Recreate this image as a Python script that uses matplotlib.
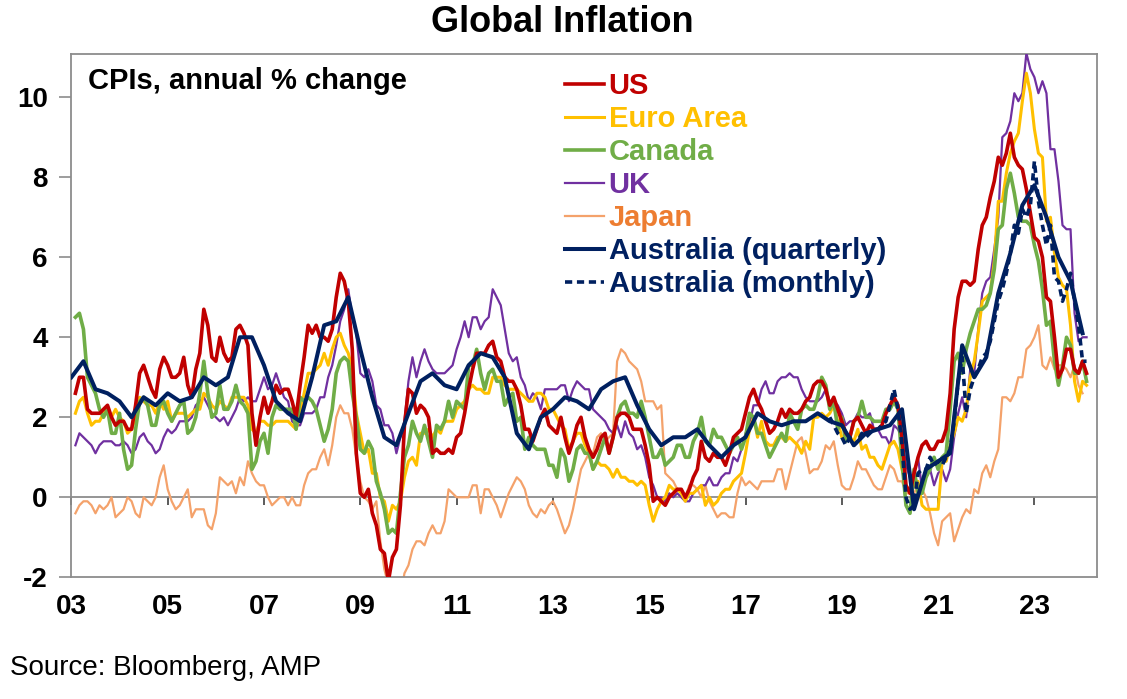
import numpy as np
import pandas as pd
import matplotlib
matplotlib.use('Agg')
from matplotlib import pyplot as plt

plt.rcParams['font.family'] = ['Liberation Sans', 'DejaVu Sans']
plt.rcParams['axes.unicode_minus'] = False

# monthly CPI, annual % change, Jan 2003 onwards
us = [2.6, 3.0, 3.0, 2.2, 2.1, 2.1, 2.1, 2.2, 2.3, 2.0, 1.8, 1.9,
      1.9, 1.7, 1.7, 2.3, 3.1, 3.3, 3.0, 2.7, 2.5, 3.2, 3.5, 3.3,
      3.0, 3.0, 3.1, 3.5, 2.8, 2.5, 3.2, 3.6, 4.7, 4.3, 3.5, 3.4,
      4.0, 3.6, 3.4, 3.5, 4.2, 4.3, 4.1, 3.8, 2.1, 1.3, 2.0, 2.5,
      2.1, 2.4, 2.8, 2.6, 2.7, 2.7, 2.4, 2.0, 2.8, 3.5, 4.3, 4.1,
      4.3, 4.0, 4.0, 3.9, 4.2, 5.0, 5.6, 5.4, 4.9, 3.7, 1.1, 0.1,
      0.0, 0.2, -0.4, -0.7, -1.3, -1.4, -2.1, -1.5, -1.3, -0.2, 1.8, 2.7,
      2.6, 2.1, 2.3, 2.2, 2.0, 1.1, 1.2, 1.1, 1.1, 1.2, 1.1, 1.5,
      1.6, 2.1, 2.7, 3.2, 3.6, 3.6, 3.6, 3.8, 3.9, 3.5, 3.4, 3.0,
      2.9, 2.9, 2.7, 2.3, 1.7, 1.7, 1.4, 1.7, 2.0, 2.2, 1.8, 1.7,
      1.6, 2.0, 1.5, 1.1, 1.4, 1.8, 2.0, 1.5, 1.2, 1.0, 1.2, 1.5,
      1.6, 1.1, 1.5, 2.0, 2.1, 2.1, 2.0, 1.7, 1.7, 1.7, 1.3, 0.8,
      -0.1, 0.0, -0.1, -0.2, 0.0, 0.1, 0.2, 0.2, 0.0, 0.2, 0.5, 0.7,
      1.4, 1.0, 0.9, 1.1, 1.0, 1.0, 0.8, 1.1, 1.5, 1.6, 1.7, 2.1,
      2.5, 2.7, 2.4, 2.2, 1.9, 1.6, 1.7, 1.9, 2.2, 2.0, 2.2, 2.1,
      2.1, 2.2, 2.4, 2.5, 2.8, 2.9, 2.9, 2.7, 2.3, 2.5, 2.2, 1.9,
      1.6, 1.5, 1.9, 2.0, 1.8, 1.6, 1.8, 1.7, 1.7, 1.8, 2.1, 2.3,
      2.5, 2.3, 1.5, 0.3, 0.1, 0.6, 1.0, 1.3, 1.4, 1.2, 1.2, 1.4,
      1.4, 1.7, 2.6, 4.2, 5.0, 5.4, 5.4, 5.3, 5.4, 6.2, 6.8, 7.0,
      7.5, 7.9, 8.5, 8.3, 8.6, 9.1, 8.5, 8.3, 8.2, 7.7, 7.1, 6.5,
      6.4, 6.0, 5.0, 4.9, 4.0, 3.0, 3.2, 3.7, 3.7, 3.2, 3.1, 3.4,
      3.1]

euro = [2.1, 2.4, 2.5, 2.1, 1.8, 1.9, 1.9, 2.1, 2.2, 2.0, 2.2, 2.0,
        1.9, 1.6, 1.7, 2.0, 2.5, 2.4, 2.3, 2.3, 2.1, 2.4, 2.2, 2.4,
        1.9, 2.1, 2.1, 2.1, 2.0, 2.1, 2.2, 2.2, 2.6, 2.5, 2.3, 2.2,
        2.4, 2.3, 2.2, 2.5, 2.5, 2.5, 2.5, 2.3, 1.7, 1.6, 1.9, 1.9,
        1.8, 1.8, 1.9, 1.9, 1.9, 1.9, 1.8, 1.7, 2.1, 2.6, 3.1, 3.1,
        3.2, 3.3, 3.6, 3.3, 3.7, 4.0, 4.1, 3.8, 3.6, 3.2, 2.1, 1.6,
        1.1, 1.2, 0.6, 0.6, 0.0, -0.1, -0.6, -0.2, -0.3, -0.1, 0.5, 0.9,
        1.0, 0.8, 1.6, 1.6, 1.7, 1.5, 1.7, 1.6, 1.9, 1.9, 1.9, 2.2,
        2.3, 2.4, 2.7, 2.8, 2.7, 2.7, 2.6, 2.6, 3.0, 3.0, 3.0, 2.8,
        2.7, 2.7, 2.7, 2.6, 2.5, 2.4, 2.4, 2.6, 2.6, 2.5, 2.2, 2.2,
        2.0, 1.8, 1.7, 1.2, 1.4, 1.6, 1.6, 1.3, 1.1, 0.7, 0.9, 0.8,
        0.8, 0.7, 0.5, 0.7, 0.5, 0.5, 0.4, 0.4, 0.3, 0.4, 0.3, -0.2,
        -0.6, -0.3, -0.1, 0.0, 0.3, 0.2, 0.2, 0.1, -0.1, 0.1, 0.1, 0.2,
        0.3, -0.2, 0.0, -0.2, -0.1, 0.1, 0.2, 0.2, 0.4, 0.5, 0.6, 1.1,
        1.7, 2.0, 1.5, 1.9, 1.4, 1.3, 1.3, 1.5, 1.5, 1.4, 1.5, 1.4,
        1.3, 1.1, 1.4, 1.2, 2.0, 2.0, 2.1, 2.0, 2.1, 2.3, 1.9, 1.5,
        1.4, 1.5, 1.4, 1.7, 1.2, 1.3, 1.0, 1.0, 0.8, 0.7, 1.0, 1.3,
        1.4, 1.2, 0.7, 0.3, 0.1, 0.3, 0.4, -0.2, -0.3, -0.3, -0.3, -0.3,
        0.9, 0.9, 1.3, 1.6, 2.0, 1.9, 2.2, 3.0, 3.4, 4.1, 4.9, 5.0,
        5.1, 5.9, 7.4, 7.4, 8.1, 8.6, 8.9, 9.1, 9.9, 10.6, 10.1, 9.2,
        8.6, 8.5, 6.9, 7.0, 6.1, 5.5, 5.3, 5.2, 4.3, 2.9, 2.4, 2.9,
        2.8]

canada = [4.5, 4.6, 4.2, 3.0, 2.8, 2.6, 2.2, 2.0, 2.2, 1.6, 1.6, 2.1,
          1.2, 0.7, 0.8, 1.7, 2.4, 2.5, 2.3, 1.8, 1.8, 2.3, 2.4, 2.1,
          1.9, 2.1, 2.3, 2.4, 1.6, 1.7, 2.0, 2.6, 3.4, 2.6, 2.0, 2.1,
          2.8, 2.2, 2.2, 2.4, 2.8, 2.4, 2.3, 2.1, 0.7, 0.9, 1.4, 1.6,
          1.1, 2.0, 2.3, 2.2, 2.2, 2.2, 2.2, 1.7, 2.5, 2.4, 2.5, 2.4,
          2.2, 1.8, 1.4, 1.7, 2.2, 3.1, 3.4, 3.5, 3.4, 2.6, 2.0, 1.2,
          1.1, 1.4, 1.2, 0.4, 0.1, -0.3, -0.9, -0.8, -0.9, 0.1, 1.0, 1.3,
          1.9, 1.6, 1.4, 1.8, 1.4, 1.0, 1.8, 1.7, 1.9, 2.4, 2.0, 2.4,
          2.3, 2.2, 3.3, 3.3, 3.7, 3.1, 2.7, 3.1, 3.2, 2.9, 2.9, 2.3,
          2.5, 2.6, 1.9, 2.0, 1.2, 1.5, 1.3, 1.2, 1.2, 1.2, 0.8, 0.8,
          0.5, 1.2, 1.0, 0.4, 0.7, 1.2, 1.3, 1.1, 1.1, 0.7, 0.9, 1.2,
          1.5, 1.1, 1.5, 2.0, 2.3, 2.4, 2.1, 2.1, 2.0, 2.4, 2.0, 1.5,
          1.0, 1.0, 1.2, 0.8, 0.9, 1.0, 1.3, 1.3, 1.0, 1.0, 1.4, 1.6,
          2.0, 1.4, 1.3, 1.7, 1.5, 1.5, 1.3, 1.1, 1.3, 1.5, 1.2, 1.5,
          2.1, 2.0, 1.6, 1.6, 1.3, 1.0, 1.2, 1.4, 1.6, 1.4, 2.1, 1.9,
          1.7, 2.2, 2.3, 2.2, 2.2, 2.5, 3.0, 2.8, 2.2, 2.4, 1.7, 2.0,
          1.4, 1.5, 1.9, 2.0, 2.4, 2.0, 2.0, 1.9, 1.9, 1.9, 2.2, 2.2,
          2.4, 2.2, 0.9, -0.2, -0.4, 0.7, 0.1, 0.1, 0.5, 0.7, 1.0, 0.7,
          1.0, 1.1, 2.2, 3.4, 3.6, 3.1, 3.7, 4.1, 4.4, 4.7, 4.7, 4.8,
          5.1, 5.7, 6.7, 6.8, 7.7, 8.1, 7.6, 7.0, 6.9, 6.9, 6.8, 6.3,
          5.9, 5.2, 4.3, 4.4, 3.4, 2.8, 3.3, 4.0, 3.8, 3.1, 3.1, 3.4,
          2.9]

uk = [1.3, 1.6, 1.5, 1.4, 1.3, 1.1, 1.3, 1.4, 1.4, 1.4, 1.3, 1.3,
      1.4, 1.3, 1.1, 1.2, 1.5, 1.6, 1.4, 1.3, 1.1, 1.2, 1.5, 1.7,
      1.6, 1.7, 1.9, 1.9, 1.9, 2.0, 2.3, 2.4, 2.5, 2.3, 2.1, 2.0,
      1.9, 2.0, 1.8, 2.0, 2.2, 2.5, 2.4, 2.5, 2.4, 2.4, 2.7, 3.0,
      2.7, 2.8, 3.1, 2.8, 2.5, 2.4, 1.9, 1.8, 1.8, 2.1, 2.1, 2.1,
      2.2, 2.5, 2.5, 3.0, 3.3, 3.8, 4.4, 4.7, 5.2, 4.5, 4.1, 3.1,
      3.0, 3.2, 2.9, 2.3, 2.2, 1.8, 1.8, 1.6, 1.1, 1.5, 1.9, 2.9,
      3.5, 3.0, 3.4, 3.7, 3.4, 3.2, 3.1, 3.1, 3.1, 3.2, 3.3, 3.7,
      4.0, 4.4, 4.0, 4.5, 4.5, 4.2, 4.4, 4.5, 5.2, 5.0, 4.8, 4.2,
      3.6, 3.4, 3.5, 3.0, 2.8, 2.4, 2.6, 2.5, 2.2, 2.7, 2.7, 2.7,
      2.7, 2.8, 2.8, 2.4, 2.7, 2.9, 2.8, 2.7, 2.7, 2.2, 2.1, 2.0,
      1.9, 1.7, 1.6, 1.8, 1.5, 1.9, 1.6, 1.5, 1.2, 1.3, 1.0, 0.5,
      0.3, 0.0, 0.0, -0.1, 0.1, 0.0, 0.1, 0.0, -0.1, -0.1, 0.1, 0.2,
      0.3, 0.3, 0.5, 0.3, 0.3, 0.5, 0.6, 0.6, 1.0, 0.9, 1.2, 1.6,
      1.8, 2.3, 2.3, 2.7, 2.9, 2.6, 2.6, 2.9, 3.0, 3.0, 3.1, 3.0,
      3.0, 2.7, 2.5, 2.4, 2.4, 2.4, 2.5, 2.7, 2.4, 2.4, 2.3, 2.1,
      1.8, 1.9, 1.9, 2.1, 2.0, 2.0, 2.1, 1.7, 1.7, 1.5, 1.5, 1.3,
      1.8, 1.7, 1.5, 0.8, 0.5, 0.6, 1.0, 0.2, 0.5, 0.7, 0.3, 0.6,
      0.7, 0.4, 0.7, 1.5, 2.1, 2.5, 2.0, 3.2, 3.1, 4.2, 5.1, 5.4,
      5.5, 6.2, 7.0, 9.0, 9.1, 9.4, 10.1, 9.9, 10.1, 11.1, 10.7, 10.5,
      10.1, 10.4, 10.1, 8.7, 8.7, 7.9, 6.8, 6.7, 6.7, 4.6, 3.9, 4.0,
      4.0]

japan = [-0.4, -0.2, -0.1, -0.1, -0.2, -0.4, -0.2, -0.3, -0.2, 0.0, -0.5, -0.4,
         -0.3, 0.0, -0.1, -0.4, -0.5, 0.0, -0.1, -0.2, 0.0, 0.5, 0.8, 0.2,
         -0.1, -0.3, -0.2, 0.0, 0.2, -0.5, -0.3, -0.3, -0.3, -0.7, -0.8, -0.4,
         0.5, 0.4, 0.3, 0.4, 0.1, 0.5, 0.3, 0.9, 0.6, 0.4, 0.3, 0.3,
         0.0, -0.2, -0.1, 0.0, 0.0, -0.2, 0.0, -0.2, -0.2, 0.3, 0.6, 0.7,
         0.7, 1.0, 1.2, 0.8, 1.3, 2.0, 2.3, 2.1, 2.1, 1.7, 1.0, 0.4,
         0.0, -0.1, -0.3, -0.1, -1.1, -1.8, -2.2, -2.2, -2.2, -2.5, -1.9, -1.7,
         -1.3, -1.1, -1.1, -1.2, -0.9, -0.7, -0.9, -0.9, -0.6, 0.2, 0.1, 0.0,
         0.0, 0.0, 0.0, 0.3, 0.3, -0.4, 0.2, 0.2, 0.0, -0.2, -0.5, -0.2,
         0.1, 0.3, 0.5, 0.4, 0.2, -0.2, -0.4, -0.5, -0.3, -0.4, -0.2, -0.1,
         -0.3, -0.6, -0.9, -0.7, -0.3, 0.2, 0.7, 0.9, 1.1, 1.1, 1.5, 1.6,
         1.4, 1.5, 1.6, 3.4, 3.7, 3.6, 3.4, 3.3, 3.2, 2.9, 2.4, 2.4,
         2.4, 2.2, 2.3, 0.6, 0.5, 0.4, 0.2, 0.2, 0.0, 0.3, 0.3, 0.2,
         0.0, 0.3, -0.1, -0.3, -0.5, -0.4, -0.4, -0.5, -0.5, 0.1, 0.5, 0.3,
         0.4, 0.3, 0.2, 0.4, 0.4, 0.4, 0.4, 0.7, 0.7, 0.2, 0.6, 1.0,
         1.4, 1.5, 1.1, 0.6, 0.7, 0.7, 0.9, 1.3, 1.2, 1.4, 0.8, 0.3,
         0.2, 0.2, 0.5, 0.9, 0.7, 0.7, 0.5, 0.3, 0.2, 0.2, 0.5, 0.8,
         0.7, 0.4, 0.4, 0.1, 0.1, 0.1, 0.3, 0.2, 0.0, -0.4, -0.9, -1.2,
         -0.6, -0.5, -0.4, -1.1, -0.8, -0.5, -0.3, -0.4, 0.2, 0.1, 0.6, 0.8,
         0.5, 0.9, 1.2, 2.5, 2.5, 2.4, 2.6, 3.0, 3.0, 3.7, 3.8, 4.0,
         4.3, 3.3, 3.2, 3.5, 3.2, 3.3, 3.3, 3.2, 3.0, 3.3, 2.8, 2.6]

# quarterly, Dec quarter 2002 onwards
aus_q = [3.0,
         3.4, 2.7, 2.6, 2.4, 2.0, 2.5, 2.3, 2.6, 2.4, 2.5, 3.0, 2.8,
         3.0, 4.0, 4.0, 3.3, 2.4, 2.1, 1.9, 3.0, 4.3, 4.4, 5.0, 3.7,
         2.5, 1.5, 1.3, 2.1, 2.9, 3.1, 2.8, 2.7, 3.3, 3.6, 3.5, 3.0,
         1.6, 1.2, 2.0, 2.2, 2.5, 2.4, 2.2, 2.7, 2.9, 3.0, 2.3, 1.7,
         1.3, 1.5, 1.5, 1.7, 1.3, 1.0, 1.3, 1.5, 2.1, 1.9, 1.8, 1.9,
         1.9, 2.1, 1.9, 1.8, 1.3, 1.6, 1.7, 1.8, 2.2, -0.3, 0.7, 0.9,
         1.1, 3.8, 3.0, 3.5, 5.1, 6.1, 7.3, 7.8, 7.0, 6.0, 5.4, 4.1]

# monthly indicator, Sep 2018 onwards
aus_m = [2.0, 1.8, 1.6, 1.5,
         1.3, 1.5, 1.3, 1.4, 1.6, 1.5, 1.6, 1.7, 1.7, 1.8, 1.9, 2.3,
         2.7, 2.2, 1.3, 0.0, -0.3, -0.2, 0.6, 0.7, 0.7, 1.0, 0.8, 0.9,
         0.8, 1.0, 1.2, 1.9, 2.9, 3.5, 2.1, 2.7, 3.0, 3.2, 3.5, 3.6,
         3.9, 4.4, 4.9, 5.2, 5.6, 6.1, 6.8, 6.6, 7.2, 7.0, 7.3, 8.4,
         7.4, 6.8, 6.3, 6.8, 5.5, 5.4, 4.9, 5.2, 5.6, 4.9, 4.3, 3.4,
         3.4]

year_ticks = list(range(2003, 2024, 2))
year_labels = ['%02d' % (y % 100) for y in year_ticks]


def month_end_years(start, n, freq):
    # decimal year of each period end (Jan -> yr + 1/12)
    d = pd.date_range(start, periods=n, freq=freq)
    return np.asarray(d.year + d.month / 12.0)


x_us = month_end_years('2003-01-31', len(us), 'ME')
x_euro = month_end_years('2003-01-31', len(euro), 'ME')
x_can = month_end_years('2003-01-31', len(canada), 'ME')
x_uk = month_end_years('2003-01-31', len(uk), 'ME')
x_jp = month_end_years('2003-01-31', len(japan), 'ME')
x_aq = month_end_years('2002-12-31', len(aus_q), 'QE')
x_am = month_end_years('2018-09-30', len(aus_m), 'ME')

W, H = 1127, 699
fig = plt.figure(figsize=(W / 100, H / 100), dpi=100)
ax = fig.add_axes([71.4 / W, 1 - 577.3 / H, (1097 - 71.4) / W, (577.3 - 54) / H])

grey = '#8c8c8c'
navy = '#002060'

ax.plot(x_jp, japan, color='#f4a26b', lw=1.6, label='Japan', zorder=2)
ax.plot(x_uk, uk, color='#7030a0', lw=1.6, label='UK', zorder=3)
ax.plot(x_euro, euro, color='#ffc000', lw=2.2, label='Euro Area', zorder=4)
ax.plot(x_can, canada, color='#70ad47', lw=2.6, label='Canada', zorder=5)
ax.plot(x_us, us, color='#c00000', lw=2.6, label='US', zorder=6)
ax.plot(x_am, aus_m, color=navy, lw=2.6, ls=(0, (2, 1.3)), label='Australia (monthly)', zorder=7)
ax.plot(x_aq, aus_q, color=navy, lw=2.9, label='Australia (quarterly)', zorder=8)

ymin, ymax = -2, 11.08
ax.set_ylim(ymin, ymax)
ax.set_xlim(2003.0, 2024.30)
ax.set_yticks(range(-2, 11, 2))
ax.set_xticks(year_ticks)
ax.set_xticklabels(year_labels)
for lab in ax.get_xticklabels() + ax.get_yticklabels():
    lab.set_fontweight('bold')
ax.tick_params(axis='y', direction='out', length=9, width=1.2, color=grey, labelsize=20, pad=8)
ax.tick_params(axis='x', length=0, labelsize=20, pad=12)
for s in ax.spines.values():
    s.set_color(grey)
    s.set_linewidth(1.3)

# zero line with the year tick marks
zero = ax.secondary_xaxis((0 - ymin) / (ymax - ymin))
zero.set_xticks(year_ticks)
zero.tick_params(axis='x', direction='out', length=6, width=1.2, color='#404040', labelbottom=False)
zero.spines['bottom'].set_color(grey)
zero.spines['bottom'].set_linewidth(1.3)

handles, labels = ax.get_legend_handles_labels()
order = ['US', 'Euro Area', 'Canada', 'UK', 'Japan', 'Australia (quarterly)', 'Australia (monthly)']
text_cols = ['#c00000', '#ffc000', '#70ad47', '#7030a0', '#ed7d31', navy, navy]
hs = [handles[labels.index(o)] for o in order]
leg = fig.legend(hs, order, loc='upper left', bbox_to_anchor=(565 / W, 1 - 72 / H),
                 frameon=False, fontsize=21, handlelength=1.35, handletextpad=0.15,
                 labelspacing=0.17, borderpad=0, borderaxespad=0)
for t, c in zip(leg.get_texts(), text_cols):
    t.set_color(c)
    t.set_fontweight('bold')

fig.text(0.499, 1 - 23 / H, 'Global Inflation', ha='center', va='center',
         fontsize=26, fontweight='bold')
fig.text(88 / W, 1 - 81 / H, 'CPIs, annual % change', ha='left', va='center',
         fontsize=21, fontweight='bold')
fig.text(10 / W, 1 - 668 / H, 'Source: Bloomberg, AMP', ha='left', va='center', fontsize=20)

fig.savefig('out.png', dpi=100)
